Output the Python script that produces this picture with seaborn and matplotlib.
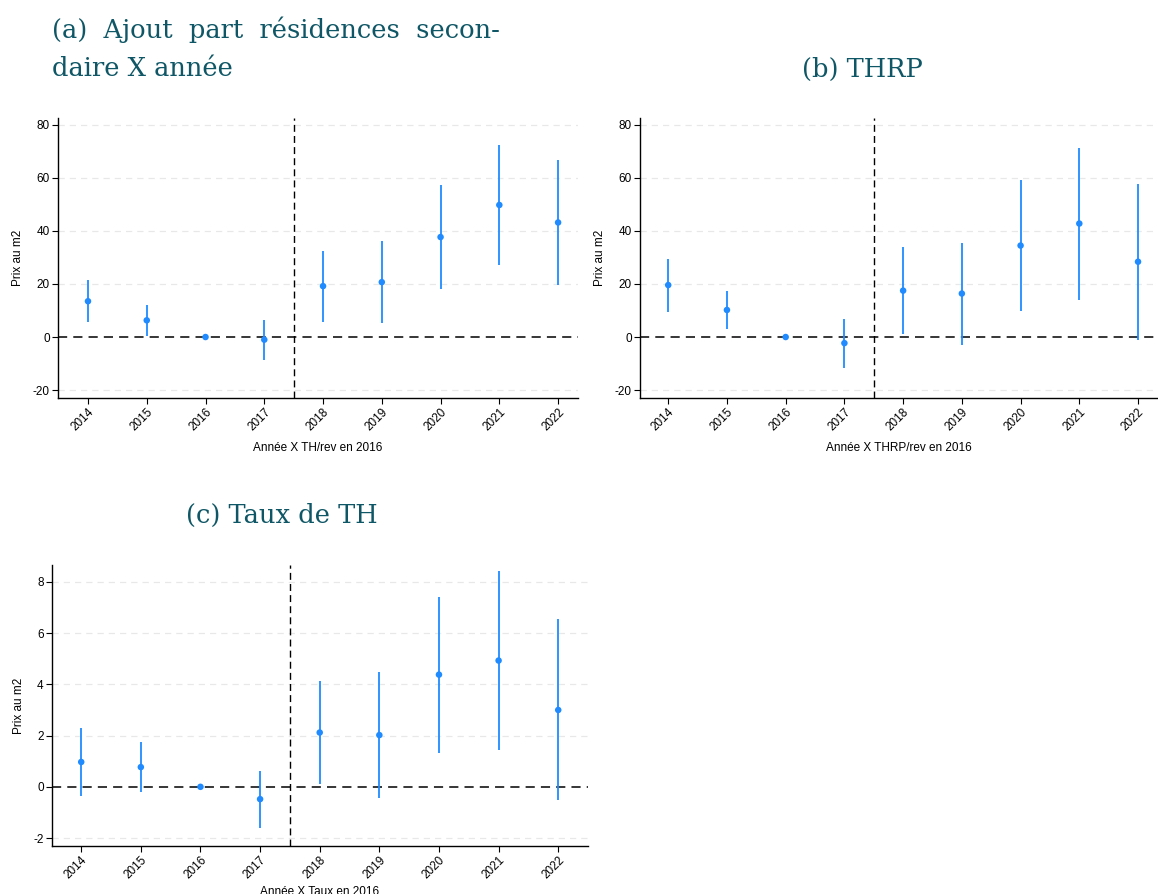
import matplotlib
matplotlib.use("Agg")
import matplotlib.pyplot as plt
import seaborn as sns
import numpy as np
import pandas as pd

years = [2014, 2015, 2016, 2017, 2018, 2019, 2020, 2021, 2022]

a_est = [13.5, 6.3, 0.0, -1.0, 19.2, 20.7, 37.7, 49.8, 43.2]
a_lo = [5.5, 0.5, 0.0, -8.5, 5.8, 5.3, 18.2, 27.2, 19.8]
a_hi = [21.5, 12.2, 0.0, 6.5, 32.3, 36.2, 57.2, 72.5, 66.6]

b_est = [19.6, 10.2, 0.0, -2.3, 17.5, 16.4, 34.5, 42.8, 28.4]
b_lo = [9.6, 3.1, 0.0, -11.5, 1.2, -2.9, 9.9, 14.1, -1.0]
b_hi = [29.5, 17.4, 0.0, 6.9, 33.8, 35.6, 59.2, 71.4, 57.9]

c_est = [0.97, 0.77, 0.0, -0.48, 2.12, 2.02, 4.38, 4.93, 3.00]
c_lo = [-0.35, -0.22, 0.0, -1.59, 0.10, -0.45, 1.33, 1.42, -0.53]
c_hi = [2.28, 1.75, 0.0, 0.60, 4.15, 4.48, 7.43, 8.43, 6.55]

title_a_lines = ["(a)  Ajout  part  résidences  secon-", "daire X année"]
title_b = "(b) THRP"
title_c = "(c) Taux de TH"
xlabels = ["Année X TH/rev en 2016", "Année X THRP/rev en 2016", "Année X Taux en 2016"]
ylabel = "Prix au m2"
yticks_ab = [-20, 0, 20, 40, 60, 80]
yticks_c = [-2, 0, 2, 4, 6, 8]

sns.set_theme(style="white")
plt.rcParams['font.family'] = ['Liberation Sans', 'DejaVu Sans']
plt.rcParams['text.color'] = 'black'
plt.rcParams['axes.labelcolor'] = 'black'
plt.rcParams['xtick.color'] = 'black'
plt.rcParams['ytick.color'] = 'black'

fig = plt.figure(figsize=(11.58, 8.94), dpi=100)
blue = '#1f8bff'
teal = '#0f5766'

panels = [
    dict(est=a_est, lo=a_lo, hi=a_hi, rect=[0.0501, 0.5548, 0.4491, 0.3132],
         xlim=(2013.49, 2022.34), ylim=(-23.0, 82.6), yt=yticks_ab, lp=6),
    dict(est=b_est, lo=b_lo, hi=b_hi, rect=[0.5527, 0.5548, 0.4473, 0.3132],
         xlim=(2013.52, 2022.34), ylim=(-23.0, 82.6), yt=yticks_ab, lp=6),
    dict(est=c_est, lo=c_lo, hi=c_hi, rect=[0.0449, 0.0537, 0.4629, 0.3143],
         xlim=(2013.51, 2022.5), ylim=(-2.31, 8.66), yt=yticks_c, lp=3),
]

for i, p in enumerate(panels):
    ax = fig.add_axes(p['rect'])
    df = pd.DataFrame({'year': years, 'est': p['est'], 'lo': p['lo'], 'hi': p['hi']})
    for yv in p['yt']:
        if yv != 0:
            ax.axhline(yv, color='#e8e8e8', lw=0.9, ls=(0, (5, 4)), zorder=0)
    ax.axhline(0, color='black', lw=1.1, ls=(0, (6, 4)), zorder=1)
    ax.axvline(2017.5, color='black', lw=1.0, ls=(0, (5, 3)), zorder=1)
    ax.vlines(df['year'], df['lo'], df['hi'], color=blue, lw=1.3, zorder=2)
    sns.scatterplot(data=df, x='year', y='est', ax=ax, color=blue, s=22,
                    edgecolor='none', zorder=3, legend=False)
    ax.set_xlim(*p['xlim'])
    ax.set_ylim(*p['ylim'])
    ax.set_xticks(years)
    ax.set_xticklabels([str(y) for y in years], rotation=45, ha='right',
                       rotation_mode='anchor', fontsize=8.5)
    ax.set_yticks(p['yt'])
    ax.set_yticklabels([str(y) for y in p['yt']], fontsize=8.5)
    ax.tick_params(axis='both', direction='out', length=4, width=0.8, color='black',
                   labelcolor='black', bottom=True, left=True, pad=2)
    ax.set_xlabel(xlabels[i], fontsize=8.5, labelpad=p['lp'], color='black')
    ax.set_ylabel(ylabel, fontsize=8.5, labelpad=6, color='black')
    sns.despine(ax=ax)
    for s in ['left', 'bottom']:
        ax.spines[s].set_color('black')
        ax.spines[s].set_linewidth(1.0)

title_font = dict(family=['DejaVu Serif'], fontsize=18.5, color=teal)
fig.text(52 / 1158, 1 - 38 / 894, title_a_lines[0], ha='left', va='baseline', **title_font)
fig.text(52 / 1158, 1 - 76 / 894, title_a_lines[1], ha='left', va='baseline', **title_font)
fig.text(862 / 1158, 1 - 77 / 894, title_b, ha='center', va='baseline', **title_font)
fig.text(282 / 1158, 1 - 523 / 894, title_c, ha='center', va='baseline', **title_font)

fig.savefig('out.png', dpi=100)
